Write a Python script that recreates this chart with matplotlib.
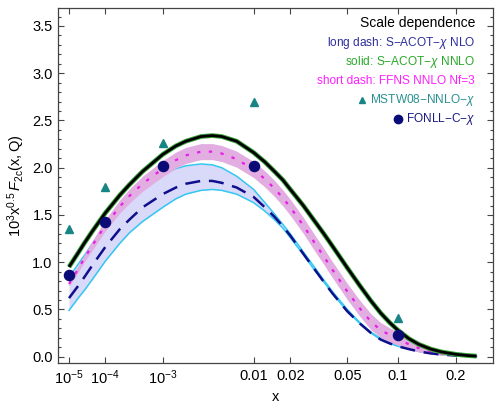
import numpy as np
import matplotlib
matplotlib.use("Agg")
import matplotlib.pyplot as plt
from matplotlib.ticker import FixedLocator, MultipleLocator, NullLocator, FormatStrFormatter
from matplotlib.lines import Line2D

plt.rcParams['font.family'] = ['Liberation Sans', 'DejaVu Sans']
plt.rcParams['mathtext.fontset'] = 'custom'
plt.rcParams['mathtext.rm'] = 'Liberation Sans'
plt.rcParams['mathtext.it'] = 'Liberation Sans:italic'
plt.rcParams['mathtext.sf'] = 'Liberation Sans'

# ---------------- data ----------------
x_grid = [1e-5, 2e-5, 3e-5, 5e-5, 1e-4, 2e-4, 3e-4, 5e-4, 1e-3, 1.5e-3,
          2e-3, 3e-3, 4e-3, 5e-3, 7e-3, 0.01, 0.0125, 0.015, 0.0175, 0.02,
          0.025, 0.03, 0.035, 0.04, 0.045, 0.05, 0.06, 0.07, 0.08, 0.09,
          0.1, 0.115, 0.13, 0.15, 0.17, 0.2, 0.225, 0.25]

nnlo_sacot = [0.95, 1.10, 1.20, 1.33, 1.52, 1.71, 1.82, 1.96, 2.14, 2.23,
              2.28, 2.33, 2.34, 2.33, 2.28, 2.16, 2.06, 1.96, 1.87, 1.77,
              1.60, 1.44, 1.30, 1.17, 1.05, 0.94, 0.75, 0.59, 0.46, 0.36,
              0.28, 0.19, 0.13, 0.08, 0.05, 0.025, 0.013, 0.006]

ffns_mid = [0.77, 0.93, 1.04, 1.18, 1.39, 1.59, 1.70, 1.83, 1.99, 2.08,
            2.13, 2.17, 2.17, 2.15, 2.09, 1.98, 1.88, 1.78, 1.68, 1.58,
            1.39, 1.21, 1.06, 0.92, 0.80, 0.69, 0.51, 0.37, 0.28, 0.23,
            0.19, 0.13, 0.09, 0.055, 0.035, 0.018, 0.010, 0.005]
ffns_halfwidth = [0.025, 0.035, 0.04, 0.05, 0.06, 0.07, 0.075, 0.08, 0.085, 0.085,
                  0.085, 0.085, 0.085, 0.085, 0.085, 0.085, 0.085, 0.085, 0.085, 0.085,
                  0.085, 0.085, 0.085, 0.085, 0.085, 0.085, 0.085, 0.085, 0.08, 0.075,
                  0.07, 0.055, 0.04, 0.03, 0.02, 0.01, 0.006, 0.003]

nlo_up = [0.84, 0.98, 1.07, 1.20, 1.39, 1.57, 1.67, 1.79, 1.93, 1.99,
          2.02, 2.04, 2.03, 2.00, 1.91, 1.77, 1.63, 1.51, 1.40, 1.30,
          1.11, 0.95, 0.81, 0.69, 0.59, 0.50, 0.36, 0.26, 0.19, 0.15,
          0.12, 0.085, 0.06, 0.04, 0.025, 0.013, 0.007, 0.003]
nlo_mid = [0.62, 0.75, 0.84, 0.97, 1.16, 1.35, 1.45, 1.58, 1.72, 1.79,
           1.83, 1.86, 1.86, 1.84, 1.79, 1.69, 1.58, 1.48, 1.38, 1.28,
           1.09, 0.93, 0.79, 0.67, 0.57, 0.48, 0.35, 0.25, 0.18, 0.14,
           0.11, 0.08, 0.055, 0.035, 0.022, 0.012, 0.006, 0.003]
nlo_low = [0.49, 0.62, 0.70, 0.82, 1.01, 1.20, 1.31, 1.43, 1.58, 1.67,
           1.72, 1.76, 1.77, 1.76, 1.72, 1.63, 1.54, 1.45, 1.36, 1.26,
           1.08, 0.92, 0.79, 0.67, 0.57, 0.48, 0.35, 0.25, 0.18, 0.14,
           0.11, 0.08, 0.055, 0.035, 0.022, 0.012, 0.006, 0.003]

pts_x = [1e-5, 1e-4, 1e-3, 0.01, 0.1]
mstw = [1.35, 1.80, 2.26, 2.70, 0.41]
fonll = [0.86, 1.43, 2.02, 2.02, 0.23]

xtick_vals = [1e-5, 1e-4, 1e-3, 0.01, 0.02, 0.05, 0.1, 0.2]
xtick_labels = [r'$\mathregular{10^{-5}}$', r'$\mathregular{10^{-4}}$', r'$\mathregular{10^{-3}}$',
                '0.01', '0.02', '0.05', '0.1', '0.2']

# ---------------- plot ----------------
fig = plt.figure(figsize=(5.0, 4.03), dpi=100)
ax = fig.add_axes([0.1166, 0.0985, 0.87, 0.8809])

ax.set_xscale('function', functions=(lambda v: np.sign(v) * np.abs(v) ** 0.2,
                                     lambda v: np.sign(v) * np.abs(v) ** 5))

xg = np.array(x_grid)
fm = np.array(ffns_mid)
fw = np.array(ffns_halfwidth)

# NLO band
ax.fill_between(xg, nlo_low, nlo_up, color='#d9d9fa', lw=0, zorder=1)
ax.plot(xg, nlo_up, color='#33c7f2', lw=1.1, zorder=2)
ax.plot(xg, nlo_low, color='#33c7f2', lw=1.1, zorder=2)
ax.plot(xg, nlo_mid, color='#0f0f8c', lw=1.8, dashes=(6, 3.5), zorder=3)

# FFNS band
ax.fill_between(xg, fm - fw, fm + fw, color='#e2aee2', lw=0, zorder=2.5)
ax.plot(xg, fm, color='#e61ee6', lw=1.6, dashes=(1.5, 3.8), zorder=3.5)

# NNLO S-ACOT
ax.plot(xg, nnlo_sacot, color='#3aa33a', lw=3.4, zorder=4, solid_capstyle='butt')
ax.plot(xg, nnlo_sacot, color='black', lw=2.0, zorder=4.5, solid_capstyle='butt')

# points
ax.plot(pts_x, mstw, ls='none', marker='^', ms=6.3, color='#178585', mec='#178585', zorder=6)
ax.plot(pts_x, fonll, ls='none', marker='o', ms=7.3, color='#0b0b78', mec='#0b0b78', zorder=6)

ax.set_xlim(3.87e-6, 0.298)
ax.set_ylim(-0.07, 3.687)

ax.xaxis.set_major_locator(FixedLocator(xtick_vals))
ax.set_xticklabels(xtick_labels)
ax.xaxis.set_minor_locator(NullLocator())
ax.yaxis.set_major_locator(MultipleLocator(0.5))
ax.yaxis.set_minor_locator(MultipleLocator(0.1))
ax.yaxis.set_major_formatter(FormatStrFormatter('%.1f'))

ax.tick_params(which='both', direction='in', top=True, right=True, color='#444444', width=0.8)
ax.tick_params(which='major', length=4.5, labelsize=10.5, pad=4)
ax.tick_params(which='minor', length=2.5)
for s in ax.spines.values():
    s.set_color('#444444')
    s.set_linewidth(0.9)

ax.set_xlabel('x', fontsize=10.5, labelpad=2)
ax.set_ylabel(r'$\mathregular{10^3x^{0.5}}\,\mathit{F}_{\mathregular{2c}}\mathregular{(x,Q)}$',
              fontsize=10.5, labelpad=4)

# legend as text
items = [
    ('Scale dependence', 'black', 10),
    (r'long dash: S$-$ACOT$-\chi$ NLO', '#2e2e9e', 8.6),
    (r'solid: S$-$ACOT$-\chi$ NNLO', '#2aa82a', 8.6),
    (r'short dash: FFNS NNLO Nf=3', '#ff1eff', 8.6),
    (r'MSTW08$-$NNLO$-\chi$', '#2a9090', 8.6),
    (r'FONLL$-$C$-\chi$', '#1a1a80', 8.6),
]
ypix = [23, 43, 62, 81, 100, 119]
for (t, c, fs), yp in zip(items, ypix):
    fig.text(475 / 500, 1 - yp / 403, t, color=c, fontsize=fs, ha='right', va='center')
fig.lines.append(Line2D([362 / 500], [1 - 100 / 403], transform=fig.transFigure,
                        marker='^', ms=5.0, color='#178585', ls='none'))
fig.lines.append(Line2D([398 / 500], [1 - 119 / 403], transform=fig.transFigure,
                        marker='o', ms=6.0, color='#0b0b78', ls='none'))

fig.savefig('out.png', dpi=100)
